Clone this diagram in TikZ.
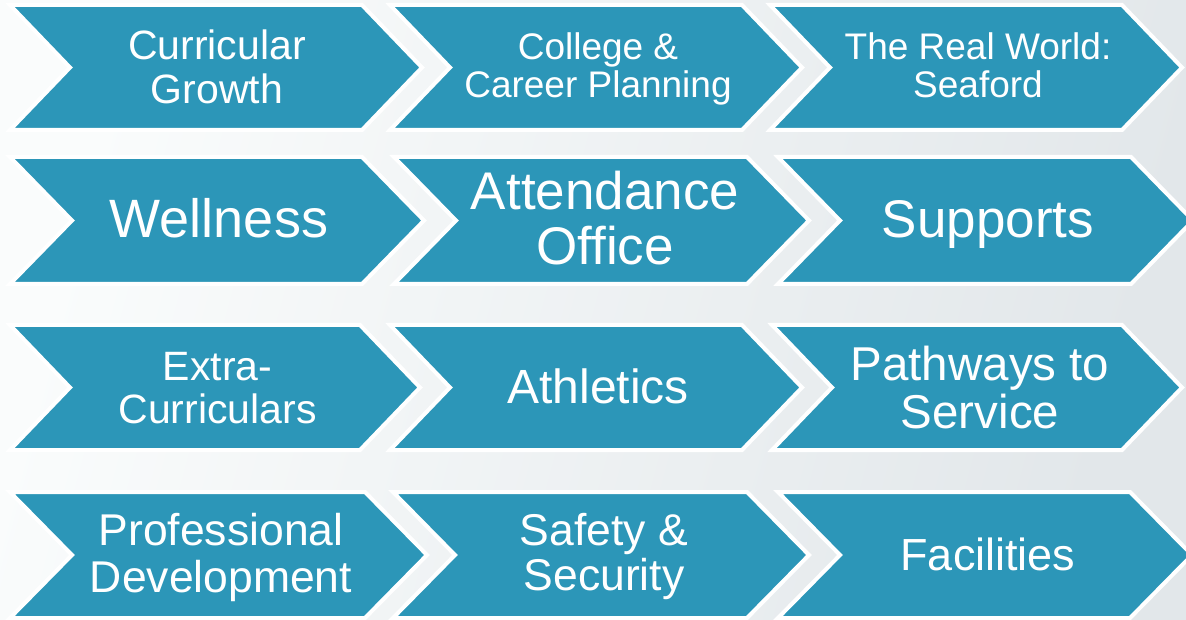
\documentclass[tikz,border=0pt]{standalone}
\usepackage{fontspec}
\setmainfont{Liberation Sans}
\definecolor{chevteal}{HTML}{2C96B8}
\definecolor{bgleft}{HTML}{FAFCFC}
\definecolor{bgright}{HTML}{E2E7EA}
\tikzset{
  chev/.style={fill=chevteal, draw=white, line width=4pt, line join=miter},
  lbl/.style={text=white, align=center, anchor=base, inner sep=0pt},
}
% #1 left x, #2 right x (top corner), #3 top y, #4 bottom y, #5 point depth
\newcommand\chevshape[5]{%
  \path[chev] (#1,#3) -- (#2,#3) -- ({#2+#5},{(#3+#4)/2}) -- (#2,#4) -- (#1,#4)
    -- ({#1+#5},{(#3+#4)/2}) -- cycle;}
\newcommand\fs[2]{\fontsize{#1}{#2}\selectfont}
\begin{document}
\begin{tikzpicture}[x=1pt, y=-1pt]
  \useasboundingbox (0,0) rectangle (1186,620);
  \clip (0,0) rectangle (1186,620);
  \path[left color=bgleft, right color=bgright, shading angle=75] (0,0) rectangle (1186,620);

  % row 1
  \chevshape{10}{362}{5}{130}{60}
  \chevshape{390}{742}{5}{130}{60}
  \chevshape{770}{1122}{5}{130}{60}
  % row 2
  \chevshape{10}{362}{157}{284}{62}
  \chevshape{394}{747}{157}{284}{62}
  \chevshape{778}{1131}{157}{284}{62}
  % row 3
  \chevshape{10}{360}{325}{450}{60}
  \chevshape{390}{742}{325}{450}{60}
  \chevshape{772}{1122}{325}{450}{60}
  % row 4
  \chevshape{10}{365}{492}{618}{62}
  \chevshape{393}{747}{492}{618}{62}
  \chevshape{778}{1130}{492}{618}{62}

  % labels (base anchor = baseline of the last line)
  \node[lbl, font=\fs{41}{44}] (t11) at (217,104) {Curricular\\Growth};
  \node[lbl, font=\fs{37}{38}] (t12) at (598,98) {College \&\\Career Planning};
  \node[lbl, font=\fs{37}{38}] (t13) at (978,98) {The Real World:\\Seaford};

  \node[lbl, font=\fs{54}{55}] (t21) at (219,238) {Wellness};
  \node[lbl, font=\fs{53}{55}] (t22) at (605,265) {Attendance\\Office};
  \node[lbl, font=\fs{53}{55}] (t23) at (988,238) {Supports};

  \node[lbl, font=\fs{41}{43}] (t31) at (217.5,423) {Extra-\\Curriculars};
  \node[lbl, font=\fs{48}{48}] (t32) at (598,403) {Athletics};
  \node[lbl, font=\fs{47.5}{48}] (t33) at (980,428) {Pathways to\\Service};

  \node[lbl, font=\fs{44.5}{47}] (t41) at (221,592) {Professional\\Development};
  \node[lbl, font=\fs{44.5}{45}] (t42) at (604,590) {Safety \&\\Security};
  \node[lbl, font=\fs{45}{45}] (t43) at (988,570) {Facilities};
\end{tikzpicture}
\end{document}
